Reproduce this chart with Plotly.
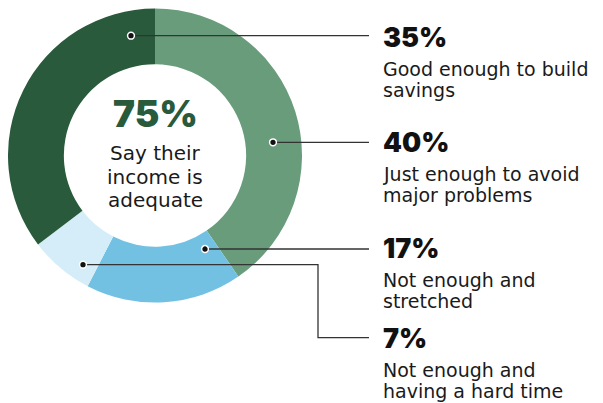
import plotly.graph_objects as go

# ---- data ----
categories = ["Just enough to avoid major problems", "Not enough and stretched",
              "Not enough and having a hard time", "Good enough to build savings"]
values = [40, 17, 7, 35]
pct_labels = ["40%", "17%", "7%", "35%"]
desc_lines = [["Just enough to avoid", "major problems"],
              ["Not enough and", "stretched"],
              ["Not enough and", "having a hard time"],
              ["Good enough to build", "savings"]]
colors = ["#699c7b", "#72c1e3", "#d4edf9", "#285a3b"]
center_pct = "75%"
center_lines = ["Say their", "income is", "adequate"]

# ---- layout config (screen pixels) ----
OFF = 8                     # page body margin
W, H = 603 - OFF, 403 - OFF
cx, cy, R = 155.0, 155.5, 147.0
hole = 0.62
leaders = [
    [(273, 142.3), (369, 142.3)],
    [(205, 249), (369, 249)],
    [(83, 264.7), (318, 264.7), (318, 337.7), (369, 337.7)],
    [(131, 35.7), (369, 35.7)],
]
label_x = 380.5
pct_y = [142.8, 248.8, 338.8, 37.8]
line_dy = [31.3, 52.0]
center_pct_y = 113.7
center_line_y = [152.5, 176.5, 199.5]

fig = go.Figure()
fig.add_trace(go.Pie(
    values=values, labels=categories, marker=dict(colors=colors, line=dict(width=0)),
    hole=hole, sort=False, direction="clockwise", rotation=0,
    textinfo="none", hoverinfo="skip", showlegend=False,
    domain=dict(x=[max(0, (cx - R - OFF) / W), (cx + R - OFF) / W],
                y=[1 - (cy + R - OFF) / H, 1 - (cy - R - OFF) / H]),
))
# dummy trace to activate the cartesian axes
fig.add_trace(go.Scatter(x=[OFF], y=[OFF], mode="markers", marker=dict(opacity=0),
                         hoverinfo="skip", showlegend=False))

shapes = []
for pts in leaders:
    path = "M " + " L ".join(f"{x},{y}" for x, y in pts)
    shapes.append(dict(type="path", path=path, xref="x", yref="y", layer="above",
                       line=dict(color="#333333", width=1.3)))
for pts in leaders:
    x, y = pts[0]
    r = 3.4
    shapes.append(dict(type="circle", xref="x", yref="y", x0=x - r, x1=x + r, y0=y - r, y1=y + r,
                       layer="above", fillcolor="#111111", line=dict(color="white", width=1.5)))

annotations = []
for i in range(len(values)):
    annotations.append(dict(x=label_x, y=pct_y[i], xref="x", yref="y", text=pct_labels[i],
                            showarrow=False, xanchor="left", yanchor="middle",
                            font=dict(family="Inter", size=27, color="#111111", weight=900)))
    for j, t in enumerate(desc_lines[i]):
        annotations.append(dict(x=label_x, y=pct_y[i] + line_dy[j], xref="x", yref="y", text=t,
                                showarrow=False, xanchor="left", yanchor="middle",
                                font=dict(family="DejaVu Sans", size=19, color="#1a1a1a")))
annotations.append(dict(x=cx, y=center_pct_y, xref="x", yref="y", text=center_pct, showarrow=False,
                        xanchor="center", yanchor="middle",
                        font=dict(family="Inter", size=37, color="#285a3b", weight=900)))
for j, t in enumerate(center_lines):
    annotations.append(dict(x=cx, y=center_line_y[j], xref="x", yref="y", text=t, showarrow=False,
                            xanchor="center", yanchor="middle",
                            font=dict(family="DejaVu Sans", size=20, color="#1a1a1a")))

fig.update_layout(
    width=W, height=H, margin=dict(l=0, r=0, t=0, b=0),
    paper_bgcolor="white", plot_bgcolor="rgba(0,0,0,0)",
    xaxis=dict(range=[OFF, OFF + W], visible=False, fixedrange=True, domain=[0, 1]),
    yaxis=dict(range=[OFF + H, OFF], visible=False, fixedrange=True, domain=[0, 1]),
    annotations=annotations, shapes=shapes,
)
fig.write_html("out.html")
